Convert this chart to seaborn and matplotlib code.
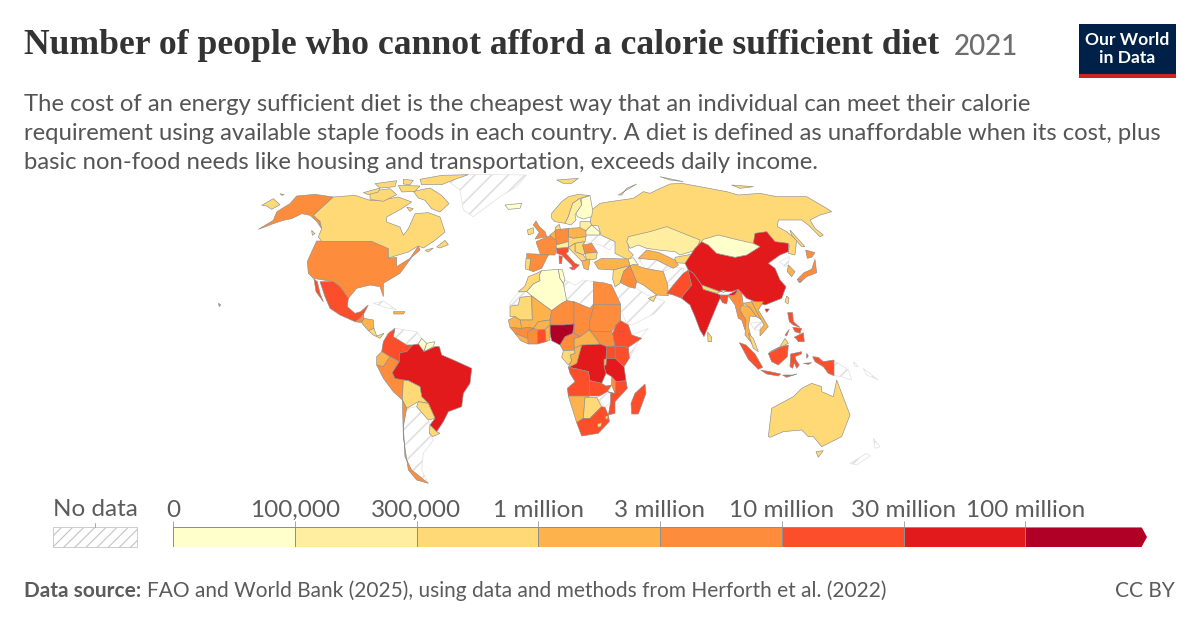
import numpy as np
import matplotlib
matplotlib.use("Agg")
import matplotlib.pyplot as plt
from matplotlib.colors import ListedColormap, BoundaryNorm
from matplotlib.patches import Rectangle, Polygon
import seaborn as sns

# ---------- data: estimated people unable to afford the diet, by legend band ----------
band_labels = ["0", "100,000", "300,000", "1 million", "3 million", "10 million", "30 million", "100 million"]
band_edges = [0, 1e5, 3e5, 1e6, 3e6, 1e7, 3e7, 1e8, 1e9]
band_hex = ["#ffffcc", "#ffeda0", "#fed976", "#feb24c", "#fd8d3c", "#fc4e2a", "#e31a1c", "#b10026"]

under_100k = ["Iceland", "Finland", "Belarus", "Mongolia", "Algeria", "Tunisia", "Guyana", "Suriname", "Caucasus", "Bhutan"]
under_300k = ["Sweden", "Kazakhstan", "Baltics", "Switzerland"]
under_1m = ["Canada", "Arctic Canada", "Russia", "Chukotka", "Norway", "Ireland", "Portugal", "Central Europe",
            "Bulgaria", "Balkans", "Hungary", "Bolivia", "Paraguay", "Uruguay", "Costa Rica", "Australia", "Morocco",
            "Mauritania", "Gabon", "Botswana", "Lesotho", "Eswatini", "Sri Lanka", "Taiwan", "Malaysia",
            "Jordan", "UAE", "Kyrgyzstan", "Nepal", "Denmark"]
under_3m = ["Ecuador", "Honduras", "Dominican", "Namibia", "Mali", "Burkina", "Benin", "Senegal", "Sierra",
            "Congo", "CAR", "Turkey", "Iran", "Greece", "Uzbekistan", "Thailand", "Laos", "South Korea",
            "Poland", "Benelux", "Vietnam", "Rwanda"]
under_10m = ["Alaska", "Hawaii", "USA", "Guatemala", "Peru", "Chile", "Spain", "France", "UK", "Germany", "Romania", "Iraq",
             "Egypt", "Niger", "Chad", "Sudan", "South Sudan", "Cameroon", "Ivory Coast", "Guinea", "Malawi",
             "Myanmar", "Japan"]
under_30m = ["Mexico", "Colombia", "Pakistan", "Bangladesh", "Ghana", "Ethiopia", "Kenya", "Uganda", "Angola",
             "Zambia", "Mozambique", "South Africa", "Madagascar", "Indonesia", "Philippines", "Italy"]
under_100m = ["Brazil", "China", "India", "DR Congo", "Tanzania"]
over_100m = ["Nigeria"]
band_members = [under_100k, under_300k, under_1m, under_3m, under_10m, under_30m, under_100m, over_100m]
band_people = [5e4, 2e5, 6e5, 2e6, 6e6, 2e7, 6e7, 1.2e8]
no_data = ["Greenland", "Venezuela", "Argentina", "Cuba", "Ukraine", "Libya", "Western Sahara", "Saudi Arabia",
           "Afghanistan", "Turkmenistan", "Somalia", "Zimbabwe", "North Korea", "Cambodia", "Papua New Guinea",
           "New Zealand", "Pacific Islands"]

AMERICAS = {
 "Greenland": [[(620,30),(680,13),(860,15),(830,50),(780,80),(700,140),(670,120),(660,60)]],
 "Argentina": [[(500,715),(530,710),(565,750),(570,770),(568,790),(580,810),(550,850),(545,900),(565,940),(515,900),(495,860),(490,770)]],
 "Venezuela": [[(465,475),(530,485),(545,505),(535,520),(518,525),(500,525),(460,500)]],
 "Cuba": [[(400,400),(430,393),(470,420),(430,410)]],
 "Hawaii": [[(-65,400),(-58,404),(-62,410)]],
 "USA": [[(230,213),(400,213),(445,232),(445,265),(470,262),(470,290),(510,265),(535,228),(540,240),(515,262),(480,310),(430,340),(430,380),(420,350),(390,345),(350,355),(325,385),(300,350),(280,335),(220,325),(205,310),(202,275),(215,245)]],
 "Mexico": [[(240,335),(280,335),(300,350),(325,385),(322,410),(345,430),(362,425),(385,405),(372,430),(360,445),(345,455),(300,435),(270,415),(255,380)], [(222,327),(232,335),(240,370),(250,395),(228,365)]],
 "Guatemala": [[(345,455),(360,445),(370,430),(372,445),(365,458)]],
 "Honduras": [[(365,458),(372,445),(400,450),(402,475),(385,482),(370,465)]],
 "Costa Rica": [[(385,482),(402,475),(410,498),(432,490),(420,505),(400,495)]],
 "Dominican": [[(460,425),(495,425),(490,432),(462,432)]],
 "Colombia": [[(465,475),(460,500),(500,525),(518,525),(500,545),(480,548),(478,575),(450,560),(425,545),(430,515),(445,490)]],
 "Guyana": [[(545,505),(560,520),(552,545),(533,525)]],
 "Suriname": [[(560,520),(585,515),(580,530),(552,545)]],
 "Ecuador": [[(425,545),(450,560),(430,590),(410,585),(410,560)]],
 "Peru": [[(410,585),(430,590),(450,560),(478,575),(457,608),(465,625),(490,630),(487,690),(460,665),(430,625)]],
 "Brazil": [[(518,525),(535,522),(552,545),(585,530),(598,530),(605,555),(640,570),(695,595),(690,640),(670,670),(665,710),(625,725),(610,755),(590,785),(570,765),(585,745),(565,700),(545,680),(540,650),(505,632),(490,630),(465,625),(457,608),(478,575),(480,548),(500,545)]],
 "Bolivia": [[(490,630),(505,632),(540,650),(545,680),(565,700),(535,695),(500,715),(487,690)]],
 "Paraguay": [[(535,695),(565,700),(585,745),(565,750),(530,710)]],
 "Uruguay": [[(570,765),(590,785),(600,790),(578,800),(568,790)]],
 "Chile": [[(487,690),(500,715),(490,770),(495,860),(515,900),(565,940),(530,930),(505,900),(490,800)]],
}
NORTH_AMERICA = {
 "Chukotka": [[(20,100),(55,80),(75,98),(50,112),(35,102)], [(75,65),(88,68),(80,70)]],
 "Alaska": [[(235,75),(175,130),(195,148),(200,170),(185,148),(165,130),(140,125),(110,140),(85,145),(55,155),(10,172),(55,145),(65,120),(80,110),(105,95),(125,72),(180,67)]],
 "Canada": [[(235,75),(300,70),(345,85),(375,85),(430,75),(470,90),(440,110),(395,135),(395,150),(435,165),(445,190),(460,170),(480,125),(520,122),(555,135),(570,180),(540,205),(505,228),(490,222),(460,240),(400,258),(400,230),(350,208),(200,208),(190,195),(200,170),(195,148),(175,130)]],
 "Arctic Canada": [[(475,58),(525,48),(560,70),(582,95),(555,120),(530,110),(510,85),(490,78)], [(345,58),(405,50),(425,68),(385,88),(345,82)], [(325,62),(375,48),(370,60),(340,68)],
                   [(495,22),(560,10),(640,8),(600,22),(560,38),(500,38)], [(360,35),(425,26),(420,44),(375,48)], [(445,22),(475,25),(465,38),(445,36)], [(430,40),(495,42),(480,58),(440,60)],
                   [(455,105),(475,110),(465,118)], [(545,225),(570,205),(580,218),(555,228)], [(510,235),(535,228),(520,240)], [(170,175),(180,185),(172,190)]],
}
EURASIA = {
 "Russia": [[(270,165),(275,120),(300,100),(330,95),(400,85),(430,65),(450,70),(470,60),(510,42),(545,40),(600,50),(680,65),(715,75),(780,70),(830,80),(920,80),(980,115),(995,125),(960,135),(930,150),(945,175),(970,195),(960,200),(925,165),(905,150),(835,150),(832,170),(860,185),(890,210),(885,255),(865,250),(868,225),(830,225),(790,240),(700,240),(610,225),(500,200),(420,210),(385,215),(385,240),(400,255),(385,270),(345,250),(345,215),(303,195),(295,168)],
            [(355,75),(410,42),(380,55),(365,75)], [(870,180),(915,230),(905,230),(875,195)], [(480,20),(550,35),(510,30)], [(695,45),(760,50),(720,55)]],
 "New Zealand": [[(1050,880),(1100,850),(1110,858),(1070,885)], [(1120,805),(1140,830),(1125,835)]],
 "Pacific Islands": [[(1060,575),(1075,590),(1065,590)], [(1090,595),(1135,630),(1100,615)]],
 "Saudi Arabia": [[(335,360),(365,335),(395,345),(440,375),(470,385),(495,395),(465,430),(395,465),(380,460)]],
 "Iceland": [[(15,105),(65,100),(60,115),(25,118)]],
 "Norway": [[(170,30),(235,25),(215,40),(190,40)]],
 "Kazakhstan": [[(385,200),(450,185),(500,170),(550,190),(600,210),(590,240),(540,255),(525,245),(475,240),(440,235),(415,225),(390,235),(380,215)]],
 "Kyrgyzstan": [[(525,262),(590,250),(555,280),(525,278)]],
 "UAE": [[(445,385),(470,375),(460,395)]],
 "Australia": [[(805,800),(815,715),(880,680),(905,655),(935,640),(965,650),(965,665),(1000,680),(1010,630),(1050,735),(1025,800),(965,830),(940,800),(925,800),(905,780),(850,785),(810,802)], [(948,845),(970,842),(955,862)]],
}
EUROPE = {
 "Ukraine": [[(258,182),(300,180),(345,200),(330,225),(300,210),(275,205),(255,200)]],
 "Turkmenistan": [[(415,250),(470,255),(515,280),(490,290),(435,280)]],
 "Norway": [[(155,115),(185,80),(205,65),(235,58),(270,62),(240,70),(218,85),(205,125),(195,145),(165,140),(155,130)]],
 "Sweden": [[(195,145),(205,125),(218,85),(240,70),(245,90),(225,120),(228,135),(213,150)]],
 "Finland": [[(245,70),(270,62),(278,105),(275,125),(250,132),(232,125),(228,115),(245,90)]],
 "Denmark": [[(165,158),(178,148),(182,165),(168,168)]],
 "Baltics": [[(240,140),(270,140),(275,150),(258,167),(240,165)]],
 "Belarus": [[(258,167),(275,150),(298,170),(300,180),(255,180)]],
 "Poland": [[(205,160),(240,158),(258,167),(258,185),(220,190),(205,185)]],
 "Germany": [[(165,165),(205,160),(205,185),(210,200),(170,210),(165,190)]],
 "Benelux": [[(150,180),(165,168),(168,195),(155,190)]],
 "France": [[(108,200),(150,182),(168,195),(172,210),(165,240),(130,240),(120,235)]],
 "Spain": [[(80,236),(130,238),(145,240),(125,280),(100,290),(88,285),(92,250),(80,250)]],
 "Portugal": [[(78,250),(92,250),(88,285),(76,282)]],
 "UK": [[(108,138),(118,155),(135,170),(140,185),(105,192),(118,172),(100,150)]],
 "Ireland": [[(82,165),(100,158),(100,175),(85,180)]],
 "Switzerland": [[(168,210),(205,200),(205,218),(170,220)]],
 "Italy": [[(170,220),(205,218),(205,230),(198,235),(225,265),(238,270),(222,285),(215,270),(185,240),(170,235)], [(208,278),(225,276),(218,285)], [(177,242),(187,244),(185,266),(178,266)]],
 "Central Europe": [[(205,185),(220,190),(258,185),(255,200),(225,205),(205,218)]],
 "Hungary": [[(225,205),(255,200),(248,210),(255,235),(250,240),(225,230)]],
 "Balkans": [[(205,218),(225,205),(225,230),(250,240),(260,255),(245,258),(232,245)]],
 "Romania": [[(248,210),(275,205),(292,232),(255,235)]],
 "Bulgaria": [[(255,235),(292,232),(288,252),(260,255)]],
 "Greece": [[(245,258),(260,255),(270,252),(265,285),(252,280)]],
 "Turkey": [[(283,262),(305,250),(385,252),(390,272),(340,285),(295,282)]],
 "Jordan": [[(340,285),(390,272),(372,288),(360,325),(345,335),(338,312)]],
 "Iraq": [[(372,288),(390,272),(410,320),(405,340),(385,335),(360,322)]],
 "Iran": [[(390,272),(400,268),(435,280),(490,290),(503,330),(505,362),(470,360),(430,330),(410,320)]],
 "Caucasus": [[(385,252),(400,248),(415,270),(400,268),(390,272)]],
 "Uzbekistan": [[(440,225),(475,232),(525,255),(535,270),(520,280),(470,255),(415,250)]],
}
AFRICA = {
 "Libya": [[(190,40),(195,30),(225,45),(250,30),(280,35),(280,100),(270,115),(222,95),(200,92)]],
 "Western Sahara": [[(28,103),(40,85),(55,68),(80,65),(95,78),(60,82),(55,105)]],
 "Somalia": [[(395,195),(445,175),(420,205),(388,265),(385,232),(425,205)]],
 "Zimbabwe": [[(298,378),(332,368),(332,395),(315,412),(290,382)]],
 "Morocco": [[(55,65),(75,48),(85,20),(110,10),(125,2),(118,15),(120,32),(100,42),(80,65)]],
 "Algeria": [[(80,65),(100,42),(120,32),(118,15),(125,2),(175,-2),(180,25),(190,40),(200,92),(185,100),(155,122),(130,105)]],
 "Tunisia": [[(175,-2),(188,0),(190,12),(195,30),(190,40),(180,25)]],
 "Egypt": [[(280,35),(310,38),(335,45),(362,103),(280,103)]],
 "Mauritania": [[(30,108),(55,105),(60,82),(95,78),(97,150),(60,150),(45,140),(30,140)]],
 "Mali": [[(95,78),(155,122),(150,150),(115,155),(100,175),(85,172),(65,175),(60,150),(97,150)]],
 "Niger": [[(155,122),(185,100),(200,92),(222,95),(222,162),(190,165),(150,165),(150,150)]],
 "Chad": [[(222,95),(270,115),(280,103),(280,115),(270,150),(268,180),(240,200),(222,190),(222,162)]],
 "Sudan": [[(280,103),(362,103),(362,152),(348,165),(335,185),(280,185),(268,180),(270,150),(280,115)]],
 "South Sudan": [[(268,180),(280,185),(335,185),(338,190),(345,228),(320,230),(300,222),(280,195)]],
 "Ethiopia": [[(362,152),(385,165),(395,195),(425,205),(385,232),(345,228),(338,190),(348,165)]],
 "Kenya": [[(345,228),(385,232),(388,265),(372,290),(345,265)]],
 "Uganda": [[(320,230),(345,228),(345,265),(318,265)]],
 "Tanzania": [[(318,265),(345,265),(372,290),(378,332),(348,335),(335,320),(318,310),(312,290)]],
 "DR Congo": [[(245,225),(300,222),(320,230),(318,265),(312,290),(318,310),(305,340),(270,332),(265,305),(232,297),(205,292),(230,280)]],
 "Rwanda": [[(312,268),(320,266),(318,285),(312,287)]],
 "CAR": [[(222,205),(240,200),(268,180),(280,195),(300,222),(245,225),(222,235)]],
 "Cameroon": [[(222,162),(222,190),(240,200),(222,205),(222,240),(190,242),(180,225),(195,200),(218,190)]],
 "Congo": [[(222,235),(245,225),(230,280),(205,292),(215,272),(210,255),(225,250)]],
 "Gabon": [[(190,242),(222,240),(225,250),(210,255),(215,272),(205,285),(185,262)]],
 "Angola": [[(205,292),(232,297),(265,305),(270,332),(268,378),(205,378),(202,355),(225,335),(210,310)]],
 "Zambia": [[(268,340),(270,332),(305,340),(318,348),(335,345),(322,365),(298,378),(268,378)]],
 "Malawi": [[(335,320),(348,335),(345,370),(335,345)]],
 "Mozambique": [[(378,332),(382,355),(345,395),(345,430),(325,435),(332,395),(332,368),(322,365),(345,370),(348,335)]],
 "Namibia": [[(205,378),(268,378),(255,385),(250,445),(230,458)]],
 "Botswana": [[(255,382),(290,382),(305,410),(270,445),(250,445)]],
 "South Africa": [[(230,458),(250,445),(270,445),(305,410),(315,412),(325,435),(328,455),(295,490),(245,498)]],
 "Lesotho": [[(292,462),(305,458),(303,470),(294,472)]],
 "Eswatini": [[(317,438),(325,438),(322,448),(316,446)]],
 "Madagascar": [[(435,342),(438,370),(415,432),(395,432),(393,400),(405,370)]],
 "Nigeria": [[(150,165),(190,165),(222,162),(218,190),(195,200),(180,225),(155,212),(150,190)]],
 "Benin": [[(135,178),(150,165),(150,210),(138,215)]],
 "Ghana": [[(112,180),(135,178),(138,215),(112,222)]],
 "Burkina": [[(100,175),(115,155),(150,150),(150,165),(135,178),(112,180)]],
 "Ivory Coast": [[(82,188),(100,175),(112,180),(112,222),(85,222)]],
 "Guinea": [[(30,172),(65,175),(85,172),(100,175),(82,188),(82,205),(62,197),(45,190)]],
 "Sierra": [[(45,190),(62,197),(82,205),(85,222),(62,212)]],
 "Senegal": [[(25,150),(45,140),(60,150),(65,175),(30,172)]],
}
ASIA = {
 "Afghanistan": [[(10,125),(40,110),(70,115),(70,130),(40,165),(10,170)]],
 "Cambodia": [[(270,280),(305,275),(300,300),(285,300)]],
 "Papua New Guinea": [[(522,392),(565,420),(575,450),(545,440),(522,437)]],
 "North Korea": [[(360,95),(388,80),(385,105),(375,110)]],
 "China": [[(75,100),(105,55),(125,35),(145,45),(170,70),(225,82),(260,75),(300,50),(280,40),(285,10),(320,5),(345,35),(385,40),(385,65),(360,75),(325,100),(345,115),(360,150),(378,170),(365,205),(315,225),(285,215),(260,205),(235,178),(215,185),(180,185),(125,165),(100,130),(85,120)], [(315,237),(328,237),(320,247)]],
 "Mongolia": [[(125,35),(130,28),(175,15),(235,30),(280,40),(300,50),(260,75),(225,82),(170,70),(145,45)]],
 "India": [[(85,120),(100,130),(125,165),(130,178),(170,190),(180,195),(205,195),(235,178),(225,195),(205,197),(188,218),(180,205),(165,240),(132,320),(120,300),(105,260),(90,225),(65,205),(70,195),(95,165),(88,140)]],
 "Nepal": [[(125,165),(180,185),(170,190),(130,178)]],
 "Bhutan": [[(182,180),(198,182),(190,188)]],
 "Bangladesh": [[(180,195),(205,197),(200,222),(188,218)]],
 "Pakistan": [[(20,190),(40,165),(70,130),(85,120),(88,140),(95,165),(70,195),(65,205),(40,195)]],
 "Myanmar": [[(205,197),(225,195),(235,178),(245,190),(250,225),(240,240),(258,270),(255,300),(245,270),(235,265),(225,225)]],
 "Thailand": [[(245,225),(270,232),(290,260),(270,258),(265,290),(280,345),(255,315),(258,270),(240,240)]],
 "Laos": [[(250,220),(275,215),(305,270),(290,260),(270,232)]],
 "Vietnam": [[(275,215),(310,215),(295,240),(325,290),(300,318),(300,300),(312,285),(290,245)]],
 "Malaysia": [[(265,310),(280,325),(295,365),(280,355)], [(330,365),(360,350),(375,325),(385,340),(365,350)]],
 "Indonesia": [[(325,370),(365,350),(385,345),(382,380),(355,405),(335,395)], [(238,338),(258,345),(285,372),(308,412),(295,418),(265,388)], [(302,420),(330,425),(362,432),(355,438),(320,432)],
               [(368,435),(400,435),(410,432),(380,442)], [(392,372),(425,365),(424,372),(405,380),(408,390),(418,405),(410,415),(403,398),(398,415),(390,410)], [(440,370),(445,378),(440,385)],
               [(458,380),(475,382),(490,395),(522,390),(522,437),(505,430),(490,410),(465,395)], [(430,400),(455,398),(445,403)]],
 "Philippines": [[(383,248),(398,248),(400,275),(420,292),(400,285),(388,275)], [(398,292),(425,295),(420,310),(405,305)], [(402,322),(430,308),(433,335),(415,335),(408,325)], [(375,315),(388,298),(380,318)]],
 "Taiwan": [[(380,198),(387,205),(384,222),(375,215)]],
 "Japan": [[(465,88),(470,128),(440,140),(420,158),(412,148),(432,128),(455,118)], [(437,60),(465,68),(455,82),(442,85)], [(412,148),(425,150),(418,158)]],
 "South Korea": [[(385,105),(405,125),(395,140),(382,125)]],
 "Sri Lanka": [[(143,306),(155,322),(155,335),(144,335)]],
}

# ---------- drawing ----------
sns.set_theme(style="white")
plt.rcParams["font.family"] = ["Lato", "DejaVu Sans"]
plt.rcParams["hatch.linewidth"] = 1.2
palette = sns.color_palette(band_hex)
cmap = ListedColormap(palette)
norm = BoundaryNorm(band_edges, cmap.N)
W, H = 1200, 627
GREY, NAVY, RED = "#5b5b5b", "#002147", "#ce261e"

people_of = {name: v for names, v in zip(band_members, band_people) for name in names}

fig = plt.figure(figsize=(W / 100, H / 100), dpi=100, facecolor="white")
ax = fig.add_axes([0, 0, 1, 1])
ax.set_xlim(0, W)
ax.set_ylim(H, 0)
ax.axis("off")
ax.set_zorder(5)

def draw_sheet(sheet, dx, dy):
    for name, parts in sheet.items():
        for part in parts:
            xs = [dx + p[0] / 3 for p in part]
            ys = [dy + p[1] / 3 for p in part]
            if name in no_data:
                ax.fill(xs, ys, facecolor="white", edgecolor="#e0e0e0", hatch="//", lw=0.5, zorder=1)
            else:
                ax.fill(xs, ys, facecolor=cmap(norm(people_of[name])), edgecolor="#8f8f8f", lw=0.45, zorder=2)

draw_sheet(AMERICAS, 240, 170)
draw_sheet(NORTH_AMERICA, 255, 172)
draw_sheet(EURASIA, 500, 170)
draw_sheet(EUROPE, 500, 175)
draw_sheet(AFRICA, 500, 270)
draw_sheet(ASIA, 660, 230)

# header
ax.text(24, 54, "Number of people who cannot afford a calorie sufficient diet", family="Liberation Serif",
        weight="bold", fontsize=25.7, color="#333333", va="baseline", ha="left")
ax.text(954, 55, "2021", fontsize=20, weight="medium", color="#6e6e6e", va="baseline", ha="left")
subtitle_lines = ["The cost of an energy sufficient diet is the cheapest way that an individual can meet their calorie",
                  "requirement using available staple foods in each country. A diet is defined as unaffordable when its cost, plus",
                  "basic non-food needs like housing and transportation, exceeds daily income."]
for line, y in zip(subtitle_lines, [111, 140, 169]):
    ax.text(24, y, line, fontsize=17.17, color="#555555", va="baseline", ha="left")

# logo
ax.add_patch(Rectangle((1079, 24), 97, 53, facecolor=NAVY, edgecolor="none"))
ax.add_patch(Rectangle((1079, 74), 97, 3.5, facecolor=RED, edgecolor="none"))
ax.text(1127.5, 40, "Our World", fontsize=12.6, weight="bold", color="white", va="center", ha="center")
ax.text(1127.5, 58, "in Data", fontsize=12.6, weight="bold", color="white", va="center", ha="center")

# legend: no data
plt.rcParams["hatch.linewidth"] = 0.8
ax.add_patch(Rectangle((53, 527), 84, 20, facecolor="white", edgecolor="#c4c4c4", hatch="///", lw=0.6))
ax.plot([95, 95], [523, 527], color="#999999", lw=0.6)
ax.text(95, 516, "No data", fontsize=17.5, color=GREY, ha="center", va="baseline")

# legend: colour bands
lax = fig.add_axes([173 / W, 1 - 547 / H, (1147 - 173) / W, 20 / H])
sns.heatmap(np.arange(len(band_hex)).reshape(1, -1), cmap=cmap, cbar=False, ax=lax,
            linewidths=0.4, linecolor="#8f8f8f", xticklabels=False, yticklabels=False)
lax.set_xticks(np.arange(len(band_labels)))
lax.set_xticklabels(band_labels, fontsize=17.5, color=GREY)
lax.tick_params(axis="x", top=True, labeltop=True, bottom=False, labelbottom=False, length=4, width=0.6,
                color="#999999", pad=0.5)
for corner in ([(1141, 526), (1148, 526), (1148, 537), (1147, 537)], [(1141, 548), (1148, 548), (1148, 537), (1147, 537)]):
    ax.add_patch(Polygon(corner, facecolor="white", edgecolor="none"))

# footer
ax.text(24, 597, "Data source:", fontsize=15, weight="bold", color=GREY, va="baseline", ha="left")
ax.text(147, 597, "FAO and World Bank (2025), using data and methods from Herforth et al. (2022)",
        fontsize=15, color=GREY, va="baseline", ha="left")
ax.text(1175, 597, "CC BY", fontsize=15, color=GREY, va="baseline", ha="right")

fig.savefig("out.png", dpi=100, facecolor="white")
